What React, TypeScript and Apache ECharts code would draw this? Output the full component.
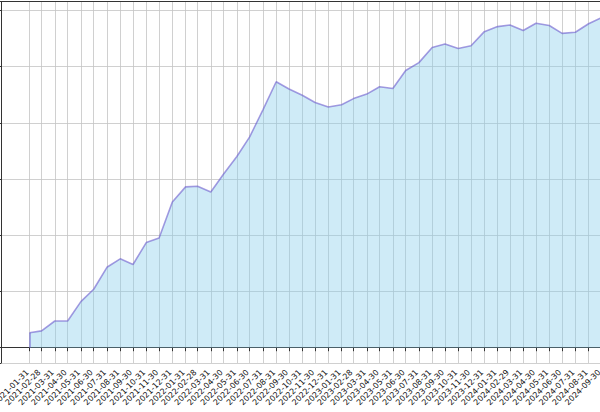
import React, { useEffect, useRef } from 'react';
import * as echarts from 'echarts';

const dates: string[] = [
  '2021-01-31', '2021-02-28', '2021-03-31', '2021-04-30', '2021-05-31', '2021-06-30',
  '2021-07-31', '2021-08-31', '2021-09-30', '2021-10-31', '2021-11-30', '2021-12-31',
  '2022-01-31', '2022-02-28', '2022-03-31', '2022-04-30', '2022-05-31', '2022-06-30',
  '2022-07-31', '2022-08-31', '2022-09-30', '2022-10-31', '2022-11-30', '2022-12-31',
  '2023-01-31', '2023-02-28', '2023-03-31', '2023-04-30', '2023-05-31', '2023-06-30',
  '2023-07-31', '2023-08-31', '2023-09-30', '2023-10-31', '2023-11-30', '2023-12-31',
  '2024-01-31', '2024-02-29', '2024-03-31', '2024-04-30', '2024-05-31', '2024-06-30',
  '2024-07-31', '2024-08-31', '2024-09-30',
];

const values: number[] = [
  0.267, 0.30, 0.475, 0.475, 0.82, 1.04, 1.43, 1.58, 1.48, 1.87, 1.95, 2.59,
  2.86, 2.87, 2.77, 3.09, 3.40, 3.75, 4.23, 4.73, 4.60, 4.49, 4.36, 4.28,
  4.32, 4.43, 4.51, 4.64, 4.61, 4.93, 5.07, 5.34, 5.40, 5.32, 5.37, 5.62,
  5.71, 5.74, 5.64, 5.77, 5.73, 5.59, 5.61, 5.76, 5.87,
];

const xAxisTitle = 'Date';
const yMin = -0.272;
const yMax = 6.153;

const DAY = 86400000;

function toDays(s: string): number {
  const [y, m, d] = s.split('-').map(Number);
  return Math.round(Date.UTC(y, m - 1, d) / DAY);
}

function pad(n: number): string {
  return n < 10 ? '0' + n : '' + n;
}

function fmt(v: number): string {
  const d = new Date(Math.round(v) * DAY);
  return d.getUTCFullYear() + '-' + pad(d.getUTCMonth() + 1) + '-' + pad(d.getUTCDate());
}

export default function App() {
  const ref = useRef<HTMLDivElement>(null);

  useEffect(() => {
    if (!ref.current) return;
    const chart = echarts.init(ref.current, undefined, { renderer: 'svg' });
    const xs = dates.map(toDays);
    const span = xs[xs.length - 1] - xs[0];
    const xMin = xs[0] - 0.05 * span;
    const xMax = xs[xs.length - 1] + 0.05 * span;
    const spine = { color: '#333333', width: 1 };
    const gridLine = { color: '#c4c4c4', width: 0.8 };

    chart.setOption({
      animation: false,
      backgroundColor: '#ffffff',
      grid: {
        left: 1,
        top: 1.7,
        width: 629,
        height: 361.3,
        containLabel: false,
        outerBoundsMode: 'none',
      },
      xAxis: [
        {
          type: 'value',
          min: xMin,
          max: xMax,
          position: 'bottom',
          axisLine: { show: true, lineStyle: spine },
          axisTick: { show: true, customValues: xs, length: 3.5, lineStyle: spine },
          axisLabel: {
            customValues: xs,
            rotate: 45,
            fontSize: 8,
            fontFamily: 'DejaVu Sans',
            color: '#111111',
            margin: 6,
            padding: [0, 3, 0, 0],
            hideOverlap: false,
            showMinLabel: true,
            showMaxLabel: true,
            formatter: (v: number) => fmt(v),
          },
          splitLine: { show: true, lineStyle: gridLine },
          name: xAxisTitle,
          nameLocation: 'middle',
          nameGap: 50,
          nameTextStyle: { fontSize: 10, fontFamily: 'DejaVu Sans', color: '#222222' },
        },
        {
          type: 'value',
          min: xMin,
          max: xMax,
          position: 'top',
          axisLine: { show: true, lineStyle: spine },
          axisTick: { show: false },
          axisLabel: { show: false },
          splitLine: { show: false },
        },
      ],
      yAxis: {
        type: 'value',
        min: yMin,
        max: yMax,
        axisLine: { show: true, lineStyle: spine },
        axisTick: { show: true, length: 3.5, lineStyle: spine },
        axisLabel: { show: false },
        splitLine: { show: true, lineStyle: gridLine },
      },
      series: [
        {
          type: 'line',
          xAxisIndex: 0,
          data: xs.map((t, i) => [t, values[i]]),
          symbol: 'none',
          lineStyle: { color: '#6A5ACD', opacity: 0.6, width: 1.6 },
          areaStyle: { color: '#87CEEB', opacity: 0.4 },
          markLine: {
            silent: true,
            symbol: 'none',
            label: { show: false },
            lineStyle: { color: '#6A5ACD', opacity: 0.6, width: 1.6, type: 'solid' },
            data: [[{ coord: [xs[0], 0] }, { coord: [xs[0], values[0]] }]],
          },
        },
      ],
    });
    return () => chart.dispose();
  }, []);

  return (
    <div
      ref={ref}
      style={{ position: 'fixed', left: 0, top: 0, width: 600, height: 412 }}
    />
  );
}
